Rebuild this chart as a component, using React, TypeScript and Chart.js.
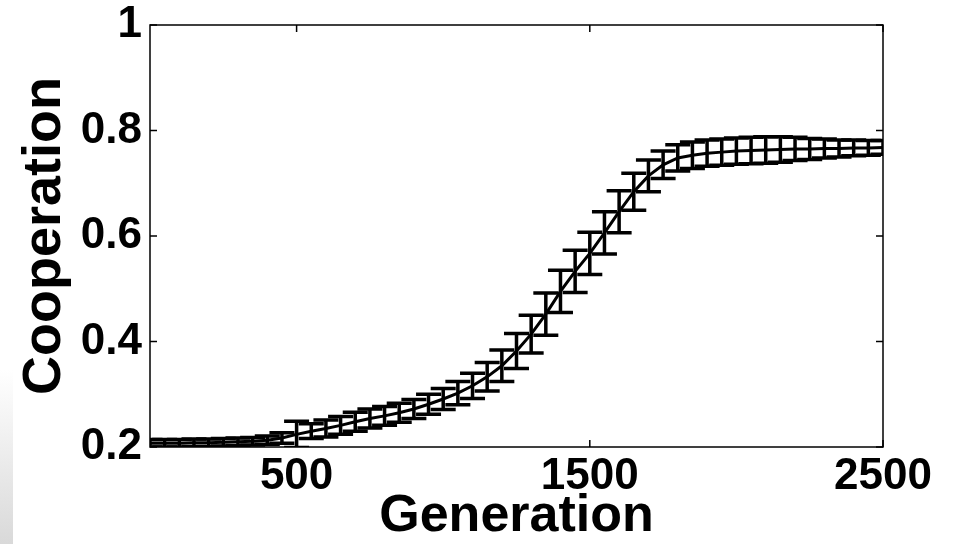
import React, { useEffect, useRef } from "react";
import { Chart, registerables } from "chart.js";

Chart.register(...registerables);

// ---- Data ----
const generations = [
  0, 50, 100, 150, 200, 250, 300, 350, 400, 450,
  500, 550, 600, 650, 700, 750, 800, 850, 900, 950,
  1000, 1050, 1100, 1150, 1200, 1250, 1300, 1350, 1400, 1450,
  1500, 1550, 1600, 1650, 1700, 1750, 1800, 1850, 1900, 1950,
  2000, 2050, 2100, 2150, 2200, 2250, 2300, 2350, 2400, 2450, 2500,
];
const cooperation = [
  0.207, 0.207, 0.207, 0.208, 0.208, 0.209, 0.21, 0.211, 0.213, 0.217,
  0.224, 0.23, 0.235, 0.241, 0.248, 0.254, 0.259, 0.265, 0.272, 0.281,
  0.291, 0.302, 0.316, 0.333, 0.354, 0.382, 0.414, 0.452, 0.495, 0.533,
  0.567, 0.606, 0.646, 0.684, 0.714, 0.735, 0.748, 0.753, 0.757, 0.759,
  0.761, 0.762, 0.763, 0.764, 0.765, 0.765, 0.766, 0.766, 0.767, 0.767, 0.768,
];
const cooperationError = [
  0.007, 0.007, 0.007, 0.007, 0.007, 0.007, 0.007, 0.007, 0.008, 0.01,
  0.025, 0.014, 0.016, 0.017, 0.018, 0.018, 0.018, 0.018, 0.018, 0.019,
  0.02, 0.022, 0.024, 0.027, 0.03, 0.033, 0.036, 0.04, 0.04, 0.04,
  0.04, 0.04, 0.04, 0.035, 0.03, 0.026, 0.025, 0.025, 0.025, 0.025,
  0.025, 0.025, 0.025, 0.024, 0.022, 0.02, 0.018, 0.016, 0.015, 0.014, 0.013,
];
const xTickValues = [500, 1500, 2500];
const yTickValues = [0.2, 0.4, 0.6, 0.8, 1];
const yTickLabels = ["0.2", "0.4", "0.6", "0.8", "1"];
const xAxisTitle = "Generation";
const yAxisTitle = "Cooperation";

const FONT = "'Liberation Sans', Arial, Helvetica, sans-serif";

const framePlugin = {
  id: "matlabFrame",
  afterDatasetsDraw(chart: any) {
    const { ctx, chartArea: a } = chart;
    const xs = chart.scales.x;
    const ys = chart.scales.y;
    const cap = 12.5;

    // error bars
    ctx.save();
    ctx.beginPath();
    ctx.rect(a.left, a.top, a.right - a.left, a.bottom - a.top);
    ctx.clip();
    ctx.strokeStyle = "#000";
    ctx.lineWidth = 3.5;
    ctx.lineCap = "butt";
    generations.forEach((g, i) => {
      const px = xs.getPixelForValue(g);
      const yt = ys.getPixelForValue(cooperation[i] + cooperationError[i]);
      const yb = ys.getPixelForValue(cooperation[i] - cooperationError[i]);
      ctx.beginPath();
      ctx.moveTo(px, yt);
      ctx.lineTo(px, yb);
      ctx.moveTo(px - cap, yt);
      ctx.lineTo(px + cap, yt);
      ctx.moveTo(px - cap, yb);
      ctx.lineTo(px + cap, yb);
      ctx.stroke();
    });
    ctx.restore();

    // box + inward ticks
    ctx.save();
    ctx.strokeStyle = "#000";
    ctx.lineWidth = 1.5;
    ctx.strokeRect(a.left, a.top, a.right - a.left, a.bottom - a.top);
    const tl = 7;
    ctx.beginPath();
    xs.ticks.forEach((t: any) => {
      const px = xs.getPixelForValue(t.value);
      ctx.moveTo(px, a.bottom);
      ctx.lineTo(px, a.bottom - tl);
      ctx.moveTo(px, a.top);
      ctx.lineTo(px, a.top + tl);
    });
    ys.ticks.forEach((t: any) => {
      const py = ys.getPixelForValue(t.value);
      ctx.moveTo(a.left, py);
      ctx.lineTo(a.left + tl, py);
      ctx.moveTo(a.right, py);
      ctx.lineTo(a.right - tl, py);
    });
    ctx.stroke();
    ctx.restore();
  },
};

export default function App() {
  const canvasRef = useRef<HTMLCanvasElement | null>(null);

  useEffect(() => {
    if (!canvasRef.current) return;
    const chart = new Chart(canvasRef.current, {
      type: "line",
      data: {
        datasets: [
          {
            data: generations.map((g, i) => ({ x: g, y: cooperation[i] })),
            borderColor: "#000",
            borderWidth: 3,
            pointRadius: 0,
            tension: 0,
            fill: false,
          },
        ],
      },
      options: {
        animation: false,
        responsive: false,
        devicePixelRatio: 1,
        layout: { padding: { left: 0, right: 73, top: 25, bottom: 0 } },
        plugins: { legend: { display: false }, tooltip: { enabled: false } },
        scales: {
          x: {
            type: "linear",
            min: 0,
            max: 2500,
            grid: { display: false, drawTicks: false },
            border: { display: false },
            afterBuildTicks: (s: any) => {
              s.ticks = xTickValues.map((v) => ({ value: v }));
            },
            afterFit: (s: any) => {
              s.height = 97;
              s.paddingLeft = 0;
              s.paddingRight = 0;
            },
            ticks: {
              color: "#000",
              padding: 8,
              maxRotation: 0,
              autoSkip: false,
              font: { family: FONT, size: 44, weight: "bold", lineHeight: 1 },
              callback: (v: any) => String(v),
            },
            title: {
              display: true,
              text: xAxisTitle,
              color: "#000",
              padding: { top: 0, bottom: 0 },
              font: { family: FONT, size: 52, weight: "bold", lineHeight: 1.05 },
            },
          },
          y: {
            type: "linear",
            min: 0.2,
            max: 1,
            grid: { display: false, drawTicks: false },
            border: { display: false },
            afterBuildTicks: (s: any) => {
              s.ticks = yTickValues.map((v) => ({ value: v }));
            },
            afterFit: (s: any) => {
              s.width = 150;
              s.paddingTop = 0;
              s.paddingBottom = 0;
            },
            ticks: {
              color: "#000",
              padding: 8,
              autoSkip: false,
              font: { family: FONT, size: 44, weight: "bold", lineHeight: 1 },
              callback: (v: any) => {
                const i = yTickValues.findIndex((t) => Math.abs(t - Number(v)) < 1e-9);
                return i >= 0 ? yTickLabels[i] : "";
              },
            },
            title: {
              display: true,
              text: yAxisTitle,
              color: "#000",
              padding: { top: 13, bottom: 0 },
              font: { family: FONT, size: 54, weight: "bold", lineHeight: 1.2 },
            },
          },
        },
      },
      plugins: [framePlugin],
    });
    return () => chart.destroy();
  }, []);

  return (
    <div
      style={{
        position: "fixed",
        left: 0,
        top: 0,
        width: 956,
        height: 544,
        background: "#fff",
        overflow: "hidden",
      }}
    >
      <div
        style={{
          position: "absolute",
          left: 0,
          top: 370,
          width: 13,
          height: 174,
          background: "linear-gradient(to bottom, #ffffff, #d9d9d9)",
        }}
      />
      <canvas
        ref={canvasRef}
        width={956}
        height={544}
        style={{ position: "absolute", left: 0, top: 0, display: "block", width: 956, height: 544 }}
      />
    </div>
  );
}
